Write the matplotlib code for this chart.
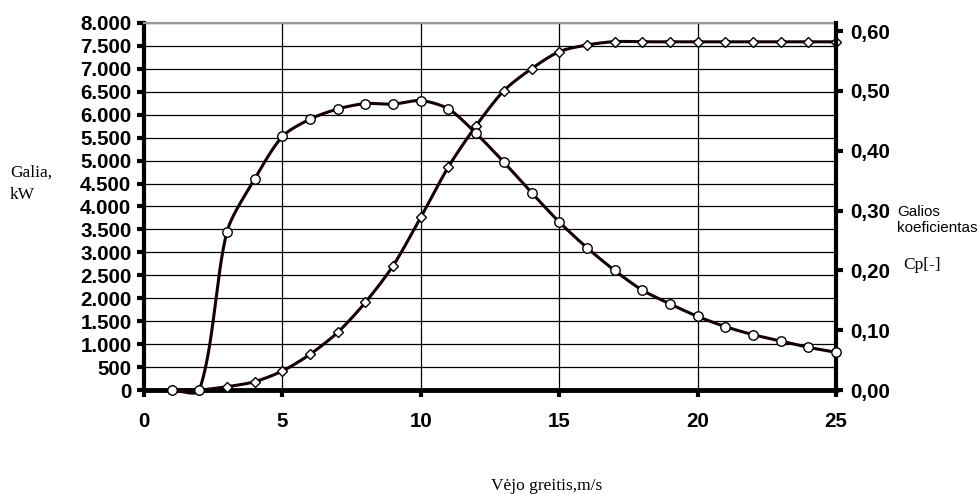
import numpy as np
import matplotlib
matplotlib.use("Agg")
import matplotlib.pyplot as plt

# ---- data ----
wind_speed = [1, 2, 3, 4, 5, 6, 7, 8, 9, 10, 11, 12, 13, 14, 15, 16, 17,
              18, 19, 20, 21, 22, 23, 24, 25]
power_kw = [0, 0, 72, 181, 414, 778, 1257, 1911, 2710, 3764, 4868, 5762, 6525,
            7004, 7375, 7520, 7595, 7590, 7590, 7590, 7590, 7590, 7590, 7590, 7590]
cp = [0.0, 0.0, 0.265, 0.353, 0.424, 0.453, 0.470, 0.479, 0.478, 0.484, 0.470,
      0.429, 0.381, 0.330, 0.281, 0.238, 0.200, 0.167, 0.144, 0.123, 0.106,
      0.0925, 0.082, 0.0714, 0.063]

x_ticks = [0, 5, 10, 15, 20, 25]
left_ticks = list(range(0, 8001, 500))
right_ticks = [0.0, 0.1, 0.2, 0.3, 0.4, 0.5, 0.6]

X_MAX = 25
LEFT_MAX = 8000
RIGHT_MAX = 0.6137
PLOT_W, PLOT_H = 692.0, 367.0   # plot area aspect, used for smoothing


def smooth(x, y, ymax, tension=0.27, n=30):
    """Smoothed line in screen-like space (tangent scaled by segment length)."""
    sx = np.asarray(x, float) / X_MAX * PLOT_W
    sy = np.asarray(y, float) / ymax * PLOT_H
    P = np.column_stack([sx, sy])
    out = []
    m = len(P)
    for i in range(m - 1):
        p0 = P[i - 1] if i > 0 else P[i]
        p1 = P[i]
        p2 = P[i + 1]
        p3 = P[i + 2] if i + 2 < m else P[i + 1]
        L = np.linalg.norm(p2 - p1)
        d1 = p2 - p0
        d1 = d1 / (np.linalg.norm(d1) or 1.0)
        d2 = p3 - p1
        d2 = d2 / (np.linalg.norm(d2) or 1.0)
        c1 = p1 + d1 * L * tension
        c2 = p2 - d2 * L * tension
        t = np.linspace(0, 1, n, endpoint=(i == m - 2))[:, None]
        seg = ((1 - t) ** 3) * p1 + 3 * ((1 - t) ** 2) * t * c1 \
            + 3 * (1 - t) * t ** 2 * c2 + t ** 3 * p2
        out.append(seg)
    s = np.vstack(out)
    return s[:, 0] / PLOT_W * X_MAX, s[:, 1] / PLOT_H * ymax


plt.rcParams['font.family'] = ['Liberation Sans', 'DejaVu Sans']

fig = plt.figure(figsize=(9.78, 4.94), dpi=100)
ax = fig.add_axes([144 / 978, 1 - 390 / 494, (836 - 144) / 978, (390 - 23) / 494])
ax2 = ax.twinx()

line_color = '#140000'

# power curve (left axis)
sx, sy = smooth(wind_speed, power_kw, LEFT_MAX)
ax.plot(sx, sy, color=line_color, lw=2.2, zorder=3, clip_on=False,
        solid_capstyle='round')
ax.plot(wind_speed, power_kw, ls='none', marker='D', ms=4.8, mfc='white',
        mec='black', mew=1.0, zorder=4, clip_on=False)

# Cp curve (right axis)
cx, cy = smooth(wind_speed, cp, RIGHT_MAX)
ax2.plot(cx, cy, color=line_color, lw=2.2, zorder=3, clip_on=False,
         solid_capstyle='round')
ax2.plot(wind_speed, cp, ls='none', marker='o', ms=6.8, mfc='white',
         mec='black', mew=1.0, zorder=4, clip_on=False)

ax.set_xlim(0, X_MAX)
ax.set_ylim(0, LEFT_MAX)
ax2.set_ylim(0, RIGHT_MAX)

ax.set_xticks(x_ticks)
ax.set_yticks(left_ticks)
ax2.set_yticks(right_ticks)

TICK_FS = 14.8
ax.set_xticklabels([str(v) for v in x_ticks], fontsize=TICK_FS, fontweight='bold')
ax.set_yticklabels([f"{v:,}".replace(",", ".") for v in left_ticks],
                   fontsize=TICK_FS, fontweight='bold')
ax2.set_yticklabels([f"{v:.2f}".replace(".", ",") for v in right_ticks],
                    fontsize=TICK_FS, fontweight='bold')

# grid
ax.grid(True, axis='both', color='black', lw=0.9)
ax.set_axisbelow(True)

# spines
ax.spines['left'].set_linewidth(3)
ax.spines['bottom'].set_linewidth(3.5)
ax.spines['top'].set_color('#999999')
ax.spines['top'].set_linewidth(1.5)
ax.spines['right'].set_visible(False)
ax2.spines['right'].set_linewidth(3)
ax2.spines['left'].set_visible(False)
ax2.spines['top'].set_visible(False)
ax2.spines['bottom'].set_visible(False)

ax.tick_params(axis='y', direction='out', length=5, width=3, pad=4)
ax.tick_params(axis='x', direction='out', length=5, width=3, pad=11)
ax2.tick_params(axis='y', direction='out', length=5, width=3, pad=5)

# labels
fig.text(10 / 978, 1 - 173 / 494, "Galia,", family='Liberation Serif',
         fontsize=12.5, va='center', ha='left')
fig.text(10 / 978, 1 - 195 / 494, "kW", family='Liberation Serif',
         fontsize=12.5, va='center', ha='left')
fig.text(897 / 978, 1 - 212 / 494, "Galios", fontsize=11, va='center', ha='left')
fig.text(897 / 978, 1 - 228 / 494, "koeficientas", fontsize=11, va='center', ha='left')
fig.text(903 / 978, 1 - 265 / 494, "Cp[-]", family='Liberation Serif',
         fontsize=12.5, va='center', ha='left')
fig.text(547 / 978, 1 - 486 / 494, "Vėjo greitis,m/s", family='Liberation Serif',
         fontsize=12.5, va='center', ha='center')

fig.savefig("out.png", dpi=100)
